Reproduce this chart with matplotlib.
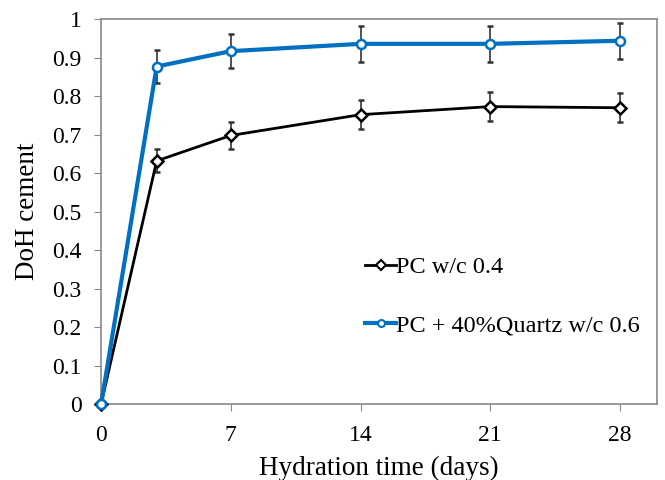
import matplotlib
matplotlib.use("Agg")
import matplotlib.pyplot as plt
from matplotlib.lines import Line2D

days = [0, 3, 7, 14, 21, 28]
pc_04 = [0.0, 0.632, 0.698, 0.752, 0.773, 0.770]
pc_04_err = [0.0, 0.030, 0.035, 0.037, 0.038, 0.038]
pc_quartz = [0.0, 0.877, 0.917, 0.936, 0.936, 0.944]
pc_quartz_err = [0.0, 0.043, 0.045, 0.046, 0.046, 0.047]
labels = ["PC w/c 0.4", "PC + 40%Quartz w/c 0.6"]
xticks = [0, 7, 14, 21, 28]
yticks = [0, 0.1, 0.2, 0.3, 0.4, 0.5, 0.6, 0.7, 0.8, 0.9, 1.0]
ytick_labels = ["0", "0.1", "0.2", "0.3", "0.4", "0.5", "0.6", "0.7", "0.8", "0.9", "1"]

plt.rcParams['font.family'] = ['Liberation Serif', 'DejaVu Serif']

fig = plt.figure(figsize=(6.65, 4.8), dpi=100)
ax = fig.add_axes([0.152, 0.158, 0.836, 0.802])

for y, err, col, lw, mk, ms, lab in [
        (pc_04, pc_04_err, 'black', 2, 'D', 6, labels[0]),
        (pc_quartz, pc_quartz_err, '#0070C0', 3, 'o', 6.5, labels[1])]:
    cont = ax.errorbar(days, y, yerr=err, color=col, lw=lw, marker=mk, ms=ms,
                       mfc='white', mec=col, mew=1.8, ecolor='#333333', elinewidth=1.2,
                       capsize=2.5, capthick=1.2, label=lab, zorder=3)
    cont[0].set_clip_on(False)

ax.set_xlim(0, 30)
ax.set_ylim(0, 1)
ax.set_xticks(xticks)
ax.set_yticks(yticks)
ax.set_yticklabels(ytick_labels)
ax.tick_params(axis='both', labelsize=17, color='#888888', direction='out', length=5)
ax.tick_params(axis='y', pad=9)
ax.tick_params(axis='x', pad=10)
for s in ax.spines.values():
    s.set_color('#888888')
    s.set_linewidth(1.2)

ax.set_xlabel("Hydration time (days)", fontsize=19.5, labelpad=7)
ax.set_ylabel("DoH cement", fontsize=19.5, labelpad=9)

h = [Line2D([], [], color='black', lw=2, marker='D', ms=5, mfc='white', mec='black', mew=1.5),
     Line2D([], [], color='#0070C0', lw=3, marker='o', ms=5, mfc='white', mec='#0070C0', mew=1.5)]
ax.legend(h, labels, loc='lower left', bbox_to_anchor=(0.458, 0.15), frameon=False,
          fontsize=17.5, handlelength=1.25, handletextpad=0.0, labelspacing=1.5, borderaxespad=0)

fig.savefig("out.png", dpi=100)
